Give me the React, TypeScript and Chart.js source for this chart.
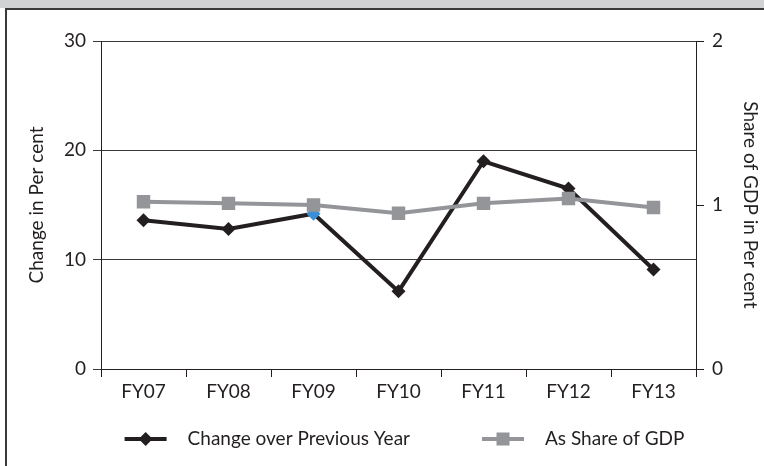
import React, { useEffect, useRef } from "react";
import { Chart, registerables } from "chart.js";

Chart.register(...registerables);

const categories = ["FY07", "FY08", "FY09", "FY10", "FY11", "FY12", "FY13"];
const changeOverPreviousYear = [13.6, 12.8, 14.2, 7.1, 19.0, 16.5, 9.1];
const shareOfGDP = [1.02, 1.01, 1.0, 0.95, 1.01, 1.04, 0.985];
const leftAxisMin = 0;
const leftAxisMax = 30;
const leftAxisStep = 10;
const rightAxisMin = 0;
const rightAxisMax = 2;
const rightAxisStep = 1;
const seriesLabels = ["Change over Previous Year", "As Share of GDP"];
const leftTitle = "Change in Per cent";
const rightTitle = "Share of GDP in Per cent";

const FONT = "Lato, 'Liberation Sans', sans-serif";
const FONT_SIZE = 19;
const TEXT_COLOR = "#231f20";
const BLACK = "#231f20";
const GRAY = "#939598";
const BLUE = "#3a8fd6";

const legendPlugin = {
  id: "customLegend",
  afterDraw(chart: any) {
    const ctx = chart.ctx as CanvasRenderingContext2D;
    const area = chart.chartArea;
    const ds = chart.data.datasets;
    ctx.save();
    ctx.font = `${FONT_SIZE}px ${FONT}`;
    const lineW = 42;
    const gap = 21;
    const itemGap = 72;
    const widths = ds.map((d: any) => ctx.measureText(d.label).width);
    let total = 0;
    widths.forEach((w: number, i: number) => {
      total += lineW + gap + w + (i > 0 ? itemGap : 0);
    });
    const cx = (area.left + area.right) / 2 + 6;
    let x = cx - total / 2;
    const y = area.bottom + 70;
    ds.forEach((d: any, i: number) => {
      const color = d.borderColor;
      ctx.strokeStyle = color;
      ctx.lineWidth = 4;
      ctx.lineCap = "butt";
      ctx.beginPath();
      ctx.moveTo(x, y);
      ctx.lineTo(x + lineW, y);
      ctx.stroke();
      const mx = x + lineW / 2;
      ctx.fillStyle = color;
      ctx.beginPath();
      if (d.pointStyle === "rectRot") {
        const r = 7;
        ctx.moveTo(mx, y - r);
        ctx.lineTo(mx + r, y);
        ctx.lineTo(mx, y + r);
        ctx.lineTo(mx - r, y);
        ctx.closePath();
      } else {
        const s = 6.5;
        ctx.rect(mx - s, y - s, 2 * s, 2 * s);
      }
      ctx.fill();
      ctx.fillStyle = TEXT_COLOR;
      ctx.textBaseline = "middle";
      ctx.textAlign = "left";
      ctx.fillText(d.label, x + lineW + gap, y);
      x += lineW + gap + widths[i] + itemGap;
    });
    ctx.restore();
  },
};

export default function App() {
  const canvasRef = useRef<HTMLCanvasElement | null>(null);

  useEffect(() => {
    if (!canvasRef.current) return;
    const font = { family: FONT, size: FONT_SIZE };
    const blackPointColors = categories.map((_, i) => (i === 2 ? BLUE : BLACK));
    const chart = new Chart(canvasRef.current, {
      type: "line",
      data: {
        labels: categories,
        datasets: [
          {
            label: seriesLabels[0],
            data: changeOverPreviousYear,
            yAxisID: "y",
            borderColor: BLACK,
            backgroundColor: BLACK,
            pointBackgroundColor: blackPointColors,
            pointBorderColor: blackPointColors,
            borderWidth: 4,
            pointStyle: "rectRot",
            pointRadius: 7,
            pointBorderWidth: 0,
            tension: 0,
            order: 2,
          },
          {
            label: seriesLabels[1],
            data: shareOfGDP,
            yAxisID: "y1",
            borderColor: GRAY,
            backgroundColor: GRAY,
            pointBackgroundColor: GRAY,
            pointBorderColor: GRAY,
            borderWidth: 4,
            pointStyle: "rect",
            pointRadius: 9.5,
            pointBorderWidth: 0,
            tension: 0,
            order: 1,
          },
        ],
      },
      options: {
        animation: false,
        responsive: false,
        maintainAspectRatio: false,
        devicePixelRatio: 1,
        layout: { padding: { top: 31, bottom: 57, left: 0, right: 0 } },
        plugins: {
          legend: { display: false },
          tooltip: { enabled: false },
        },
        scales: {
          x: {
            type: "category",
            offset: true,
            grid: {
              offset: true,
              drawOnChartArea: false,
              drawTicks: true,
              tickLength: 8,
              color: "#231f20",
            },
            border: { display: true, color: "#231f20", width: 1 },
            ticks: { font, color: TEXT_COLOR, padding: 3, maxRotation: 0 },
            afterFit: (scale: any) => {
              scale.height = 40;
            },
          },
          y: {
            position: "left",
            min: leftAxisMin,
            max: leftAxisMax,
            ticks: { stepSize: leftAxisStep, font, color: TEXT_COLOR, padding: 7 },
            grid: { color: "#3a3a3a", lineWidth: 1, tickLength: 8, drawOnChartArea: true },
            border: { display: true, color: "#231f20", width: 1 },
            title: {
              display: true,
              text: leftTitle,
              font,
              color: TEXT_COLOR,
              padding: { top: 18, bottom: 0 },
            },
            afterFit: (scale: any) => {
              scale.width = 94;
            },
          },
          y1: {
            position: "right",
            min: rightAxisMin,
            max: rightAxisMax,
            ticks: { stepSize: rightAxisStep, font, color: TEXT_COLOR, padding: 8 },
            grid: { drawOnChartArea: false, tickLength: 8, color: "#231f20" },
            border: { display: true, color: "#231f20", width: 1 },
            title: {
              display: true,
              text: rightTitle,
              font,
              color: TEXT_COLOR,
              padding: { top: 2, bottom: 0 },
            },
            afterFit: (scale: any) => {
              scale.width = 68;
            },
          },
        },
      },
      plugins: [legendPlugin],
    } as any);
    return () => chart.destroy();
  }, []);

  return (
    <div
      style={{
        position: "absolute",
        left: 0,
        top: 0,
        width: 764,
        height: 466,
        background: "#ffffff",
        overflow: "hidden",
      }}
    >
      <div
        style={{
          position: "absolute",
          left: 0,
          top: 0,
          width: 764,
          height: 8,
          background: "#d1d2d4",
        }}
      />
      <div
        style={{
          position: "absolute",
          left: 5,
          top: 8,
          width: 759,
          height: 458,
          borderTop: "2px solid #3a3a3a",
          borderLeft: "2px solid #3a3a3a",
          boxSizing: "border-box",
        }}
      />
      <canvas
        ref={canvasRef}
        width={757}
        height={456}
        style={{ position: "absolute", left: 7, top: 10, width: 757, height: 456 }}
      />
    </div>
  );
}
